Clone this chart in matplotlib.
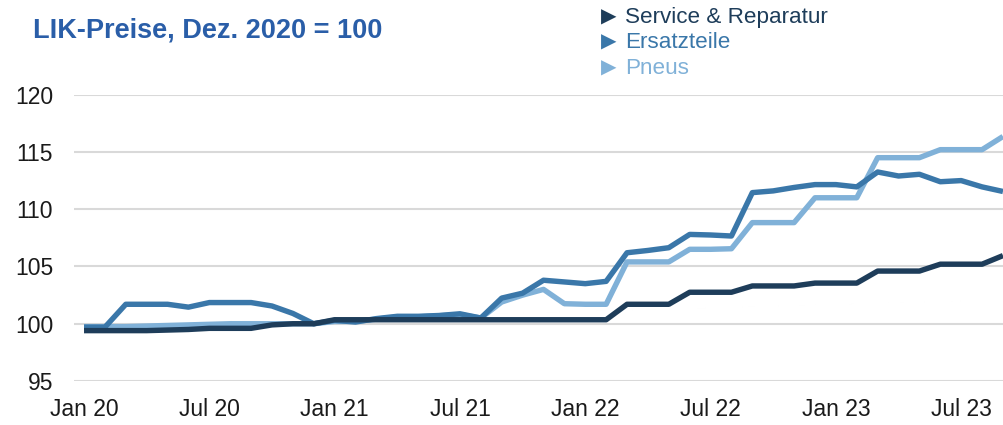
import matplotlib.pyplot as plt
import numpy as np

plt.rcParams['font.family'] = ['Liberation Sans', 'DejaVu Sans']

# monthly index values, Jan 2020 - Sep 2023 (Dez. 2020 = 100)
service = [99.4, 99.4, 99.4, 99.4, 99.45, 99.5, 99.6, 99.6, 99.6, 99.9, 100.0, 100.0,
           100.35, 100.35, 100.35, 100.35, 100.35, 100.35, 100.35, 100.35, 100.35, 100.35, 100.35, 100.35,
           100.35, 100.35, 101.7, 101.7, 101.7, 102.75, 102.75, 102.75, 103.3, 103.3, 103.3, 103.55,
           103.55, 103.55, 104.6, 104.6, 104.6, 105.2, 105.2, 105.2, 105.95]
ersatzteile = [99.7, 99.7, 101.7, 101.7, 101.7, 101.45, 101.85, 101.85, 101.85, 101.55, 100.9, 100.0,
               100.3, 100.15, 100.45, 100.65, 100.65, 100.72, 100.87, 100.5, 102.24, 102.67, 103.8, 103.65,
               103.5, 103.7, 106.2, 106.4, 106.64, 107.8, 107.75, 107.66, 111.45, 111.6, 111.9, 112.15,
               112.15, 111.95, 113.25, 112.9, 113.05, 112.4, 112.5, 111.95, 111.55]
pneus = [99.75, 99.75, 99.75, 99.8, 99.85, 99.9, 99.95, 100.0, 100.0, 100.0, 100.0, 100.0,
         100.2, 100.2, 100.4, 100.6, 100.6, 100.7, 100.8, 100.5, 101.9, 102.5, 103.0, 101.75,
         101.7, 101.7, 105.4, 105.4, 105.4, 106.5, 106.5, 106.55, 108.83, 108.83, 108.83, 111.0,
         111.0, 111.0, 114.5, 114.5, 114.5, 115.2, 115.2, 115.2, 116.35]

series_names = ['Service & Reparatur', 'Ersatzteile', 'Pneus']
series_colors = ['#1e3d5a', '#3a77a9', '#80b1d8']
tick_labels = ['Jan 20', 'Jul 20', 'Jan 21', 'Jul 21', 'Jan 22', 'Jul 22', 'Jan 23', 'Jul 23']
y_ticks = [95, 100, 105, 110, 115, 120]

x = np.arange(len(service))

fig = plt.figure(figsize=(10.04, 4.25), dpi=100)
ax = fig.add_axes([74 / 1004, 0.1035, 930 / 1004, 0.6737])

# lightest series underneath, darkest on top
for values, color in zip([pneus, ersatzteile, service], series_colors[::-1]):
    ax.plot(x, values, color=color, linewidth=3.9, solid_joinstyle='round',
            solid_capstyle='butt', clip_on=False, zorder=3)

ax.set_xlim(-0.48, 44.05)
ax.set_ylim(95, 120)
ax.set_yticks(y_ticks)
ax.set_yticklabels([str(v) for v in y_ticks])
ax.set_xticks(x[::6])
ax.set_xticklabels(tick_labels)
ax.grid(axis='y', color='#d9d9d9', linewidth=1.5)
ax.set_axisbelow(True)
for spine in ax.spines.values():
    spine.set_visible(False)
ax.tick_params(axis='y', length=0, pad=15, labelsize=16.5, labelcolor='#1a1a1a')
ax.tick_params(axis='x', length=0, pad=12, labelsize=16.5, labelcolor='#1a1a1a')

fig.text(33 / 1004, 1 - 30 / 425, 'LIK-Preise, Dez. 2020 = 100', color='#2a5ea8',
         fontsize=19.5, fontweight='bold', va='center', ha='left')

# legend as coloured triangles with matching labels
for k, (name, color) in enumerate(zip(series_names, series_colors)):
    yy = 1 - (17 + 25.5 * k) / 425
    fig.text(601 / 1004, yy, '\u25b6', color=color, fontsize=14.5, va='center', ha='left',
             family=['DejaVu Sans'])
    fig.text(625 / 1004, yy, name, color=color, fontsize=16.2, va='center', ha='left')

fig.savefig('out.png', dpi=100)
